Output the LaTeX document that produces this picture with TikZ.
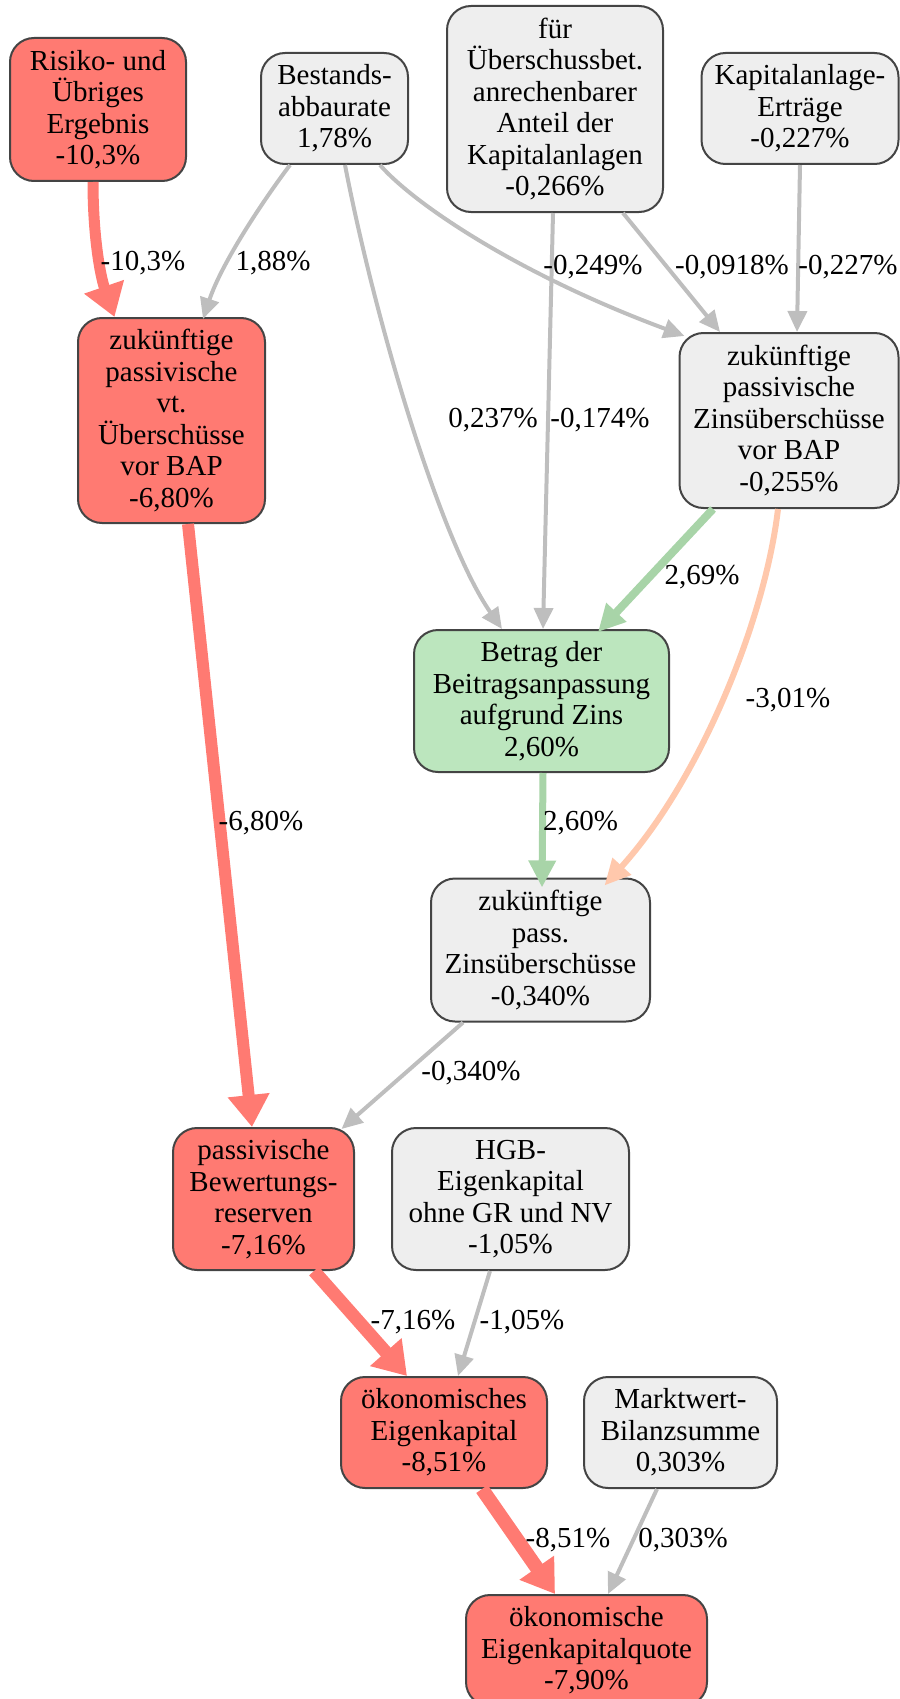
\documentclass[tikz,border=0pt]{standalone}
\usepackage{fontspec}
\setmainfont{Liberation Serif}
\usetikzlibrary{arrows.meta,calc}
\definecolor{redf}{RGB}{255,122,114}
\definecolor{grayf}{RGB}{238,238,238}
\definecolor{greenf}{RGB}{188,230,190}
\definecolor{bord}{RGB}{68,68,68}
\definecolor{edgegray}{RGB}{190,190,190}
\definecolor{edgegreen}{RGB}{168,212,168}
\definecolor{edgepeach}{RGB}{255,200,172}
\definecolor{edgered}{RGB}{255,122,114}
\begin{document}
\begin{tikzpicture}[x=1pt,y=-1pt,
  box/.style={draw=bord, line width=2pt, rounded corners=24pt, align=center, inner sep=0pt,
    font=\fontsize{29}{31.5}\selectfont},
  redbox/.style={box, fill=redf},
  graybox/.style={box, fill=grayf},
  greenbox/.style={box, fill=greenf},
  lbl/.style={font=\fontsize{29}{31.5}\selectfont, inner sep=0pt},
  gedge/.style={draw=edgegray, line width=4pt, -{Triangle[length=21pt,width=19pt]}},
  redge/.style={draw=edgered, -{Triangle[length=32pt,width=40pt]}},
  grnedge/.style={draw=edgegreen, -{Triangle[length=27pt,width=26pt]}},
  pedge/.style={draw=edgepeach, line width=6pt, -{Triangle[length=26pt,width=24pt]}}
]
\useasboundingbox (0,0) rectangle (899,1699);

% nodes
\node[redbox, minimum width=176pt, minimum height=143pt] (risk) at (98,109.5) {Risiko- und\\Übriges\\Ergebnis\\-10,3\%};
\node[graybox, minimum width=147pt, minimum height=111pt] (bestand) at (334.5,108.5) {Bestands-\\abbaurate\\1,78\%};
\node[graybox, minimum width=216pt, minimum height=206pt] (fuer) at (555,109) {für\\Überschussbet.\\anrechenbarer\\Anteil der\\Kapitalanlagen\\-0,266\%};
\node[graybox, minimum width=197pt, minimum height=111pt] (kap) at (800,108.5) {Kapitalanlage-\\Erträge\\-0,227\%};
\node[redbox, minimum width=187pt, minimum height=205pt] (vt) at (171.5,420.5) {zukünftige\\passivische\\vt.\\Überschüsse\\vor BAP\\-6,80\%};
\node[graybox, minimum width=219pt, minimum height=175pt] (zbap) at (789,420.5) {zukünftige\\passivische\\Zinsüberschüsse\\vor BAP\\-0,255\%};
\node[greenbox, minimum width=255pt, minimum height=142pt] (betrag) at (541.5,701) {Betrag der\\Beitragsanpassung\\aufgrund Zins\\2,60\%};
\node[graybox, minimum width=219pt, minimum height=143pt] (pz) at (540.5,950) {zukünftige\\pass.\\Zinsüberschüsse\\-0,340\%};
\node[redbox, minimum width=181pt, minimum height=142pt] (bew) at (263.5,1199) {passivische\\Bewertungs-\\reserven\\-7,16\%};
\node[graybox, minimum width=237pt, minimum height=142pt] (hgb) at (510.5,1199) {HGB-\\Eigenkapital\\ohne GR und NV\\-1,05\%};
\node[redbox, minimum width=206pt, minimum height=111pt] (oek) at (444,1432.5) {ökonomisches\\Eigenkapital\\-8,51\%};
\node[graybox, minimum width=193pt, minimum height=111pt] (mw) at (680.5,1432.5) {Marktwert-\\Bilanzsumme\\0,303\%};
\node[redbox, minimum width=241pt, minimum height=111pt] (quote) at (586.5,1650.5) {ökonomische\\Eigenkapitalquote\\-7,90\%};

% edges
\draw[redge, line width=11pt] ($(risk.south)+(-5,0)$) .. controls (93,235) and (100,275) .. ($(vt.north)+(-57,0)$);
\draw[gedge] ($(bestand.south)+(-44.5,0)$) .. controls (265,198) and (222,262) .. ($(vt.north)+(31.5,2)$);
\draw[gedge] ($(bestand.south)+(10.5,0)$) .. controls (375,320) and (440,540) .. ($(betrag.north)+(-39.5,0)$);
\draw[gedge] ($(bestand.south)+(45.5,0)$) .. controls (415,205) and (520,275) .. ($(zbap.north west)+(6,4)$);
\draw[gedge] ($(fuer.south)+(-2,0)$) -- ($(betrag.north)+(1.5,0)$);
\draw[gedge] ($(fuer.south)+(68,0)$) -- ($(zbap.north)+(-69,0)$);
\draw[gedge] (kap.south) -- ($(zbap.north)+(8,0)$);
\draw[grnedge, line width=8pt] ($(zbap.south)+(-76,0)$) -- ($(betrag.north)+(56.5,3)$);
\draw[pedge] ($(zbap.south)+(-11,0)$) .. controls (765,620) and (700,780) .. ($(pz.north)+(64,8)$);
\draw[grnedge, line width=7pt] ($(betrag.south)+(1.5,0)$) -- ($(pz.north)+(1.5,10)$);
\draw[redge, line width=12pt] ($(vt.south)+(16.5,0)$) -- ($(bew.north)+(-11.5,0)$);
\draw[gedge] ($(pz.south)+(-77.5,0)$) -- ($(bew.north)+(78,2)$);
\draw[redge, line width=13pt] ($(bew.south)+(50.5,0)$) -- ($(oek.north)+(-37,0)$);
\draw[gedge] ($(hgb.south)+(-20.5,0)$) -- ($(oek.north)+(14,0)$);
\draw[redge, line width=14pt] ($(oek.south)+(38,0)$) -- ($(quote.north)+(-31.5,0)$);
\draw[gedge] ($(mw.south)+(-23.5,0)$) -- ($(quote.north)+(21.5,0)$);

% edge labels
\node[lbl] (l1) at (143,263) {-10,3\%};
\node[lbl] (l2) at (273,263) {1,88\%};
\node[lbl] (l3) at (593,267) {-0,249\%};
\node[lbl] (l4) at (732,267) {-0,0918\%};
\node[lbl] (l5) at (848,267) {-0,227\%};
\node[lbl] (l6) at (493,420) {0,237\%};
\node[lbl] (l7) at (600,420) {-0,174\%};
\node[lbl] (l8) at (702,577) {2,69\%};
\node[lbl] (l9) at (788,700) {-3,01\%};
\node[lbl] (l10) at (261,823) {-6,80\%};
\node[lbl] (l11) at (580.5,823) {2,60\%};
\node[lbl] (l12) at (471,1073) {-0,340\%};
\node[lbl] (l13) at (413,1322) {-7,16\%};
\node[lbl] (l14) at (522,1322) {-1,05\%};
\node[lbl] (l15) at (568,1540) {-8,51\%};
\node[lbl] (l16) at (683,1540) {0,303\%};
\end{tikzpicture}
\end{document}
